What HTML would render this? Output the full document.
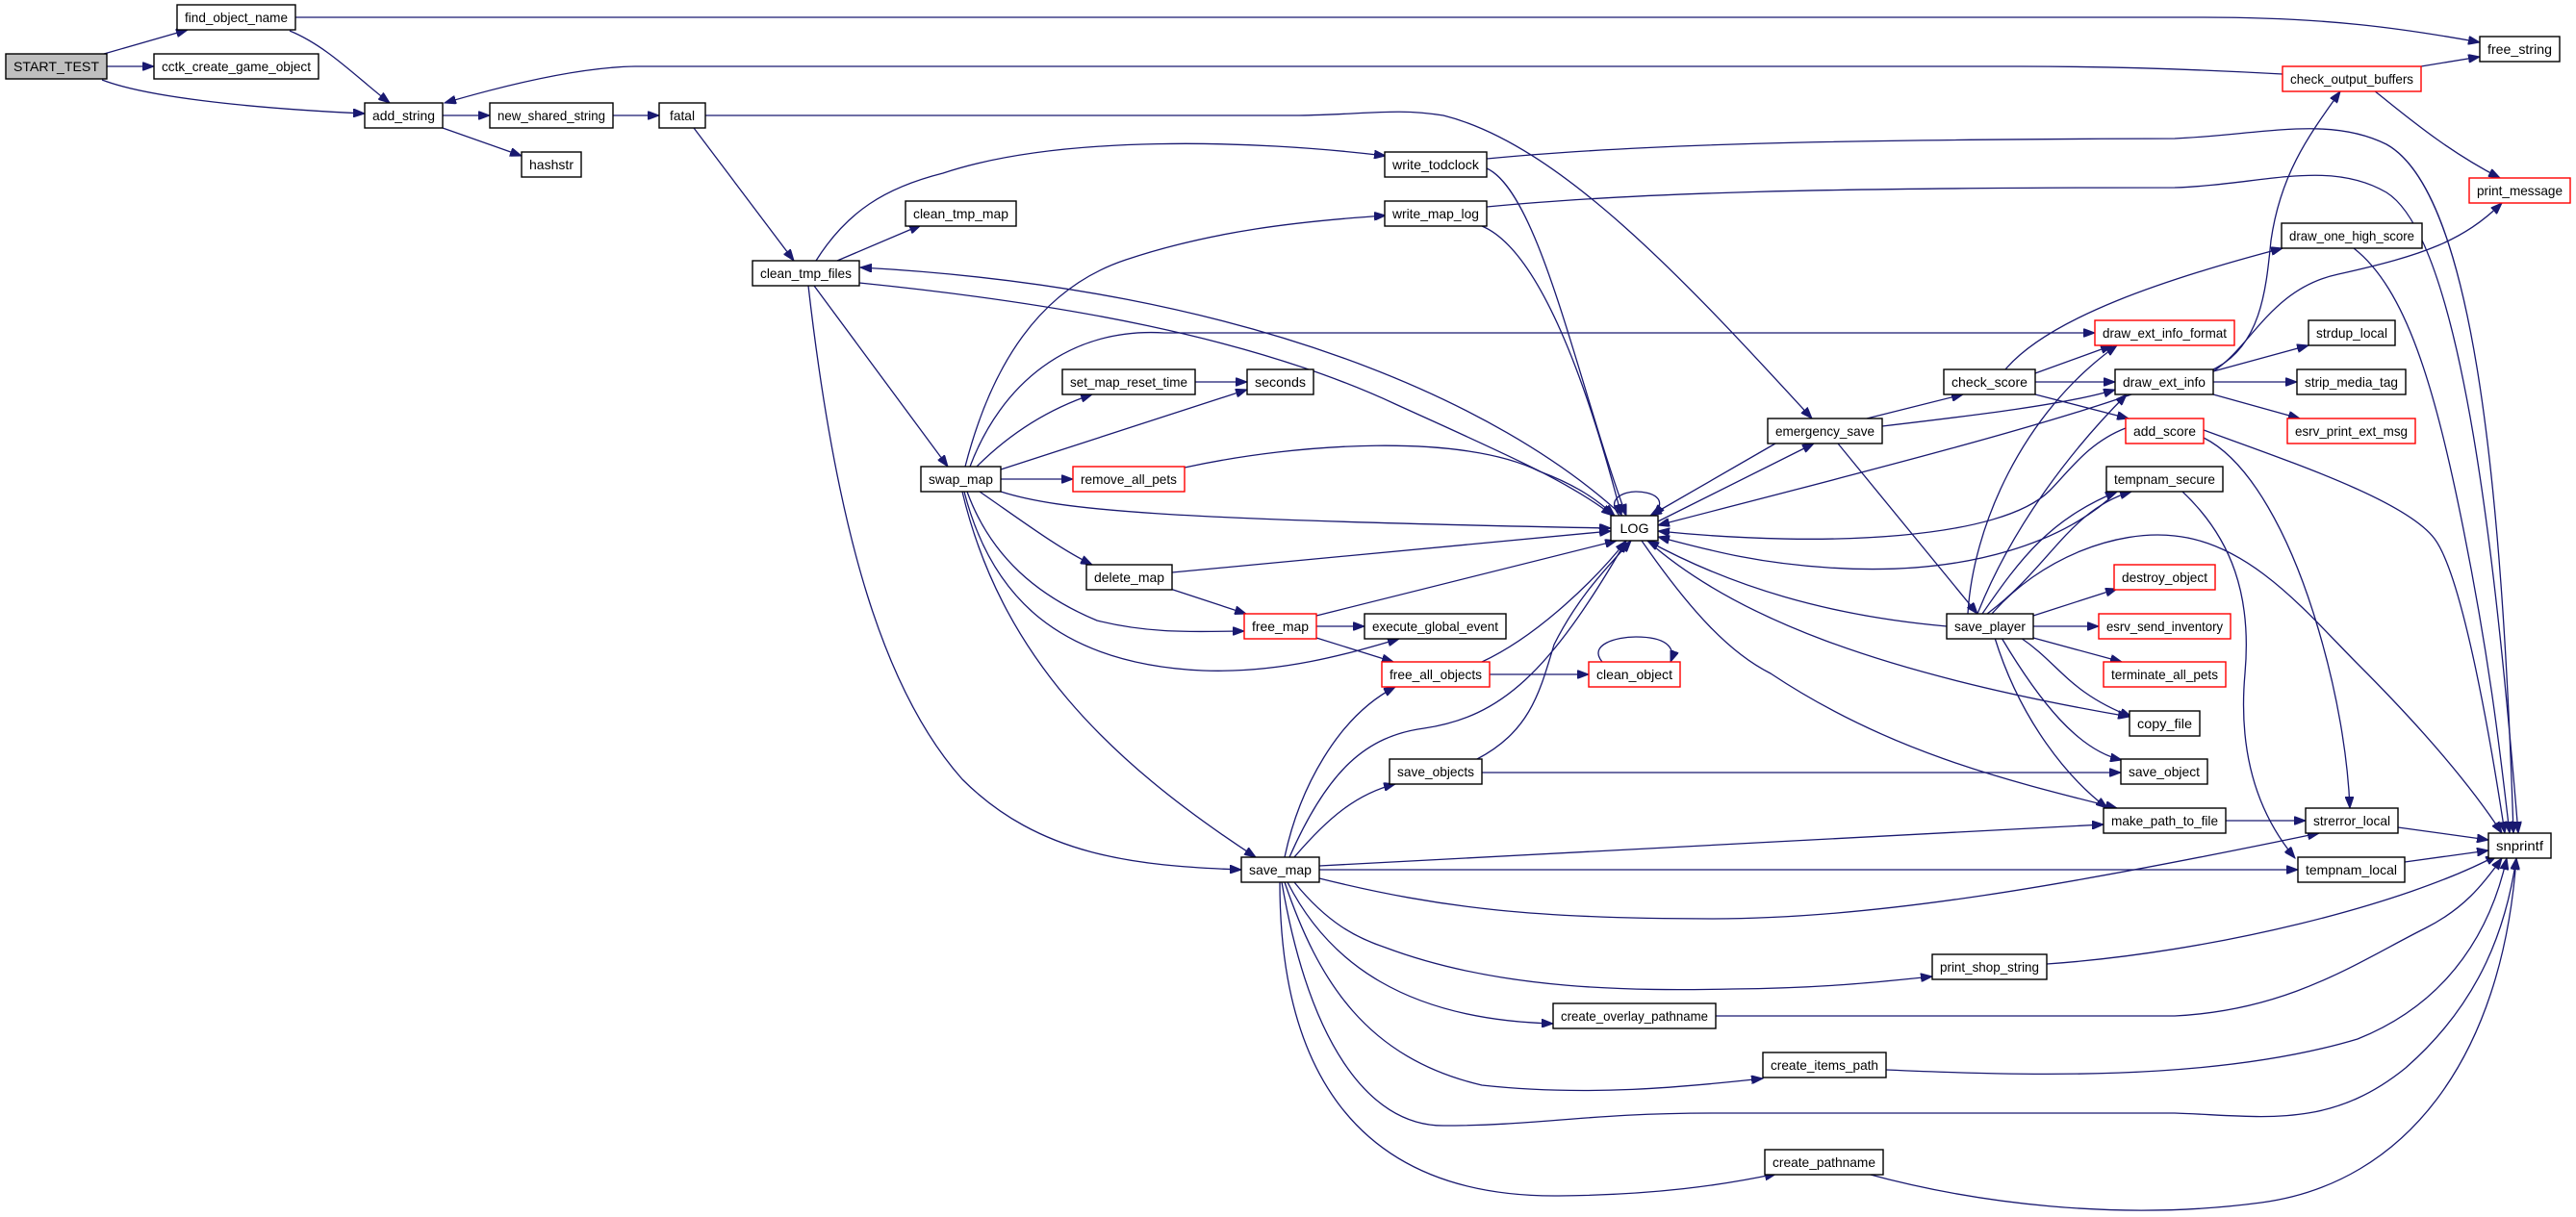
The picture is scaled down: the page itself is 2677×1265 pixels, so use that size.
<!DOCTYPE html>
<html><head><meta charset="utf-8"><style>
html,body{margin:0;padding:0;background:#fff;}
svg{display:block;}
text{font-family:"Liberation Sans",sans-serif;font-size:14px;fill:#000;}
.e{fill:none;stroke:#191970;stroke-width:1.3;marker-end:url(#a);}
rect{stroke-width:1.4;}
</style></head><body>
<svg width="2677" height="1265" viewBox="0 0 2677 1265" xmlns="http://www.w3.org/2000/svg">
<defs><marker id="a" markerUnits="userSpaceOnUse" markerWidth="13" markerHeight="9" refX="12" refY="4.5" orient="auto"><path d="M0,0 L12,4.5 L0,9 z" fill="#191970" stroke="#191970"/></marker></defs>
<g>
<path class="e" d="M108,56 L195,31"/>
<path class="e" d="M111,69 L160,69"/>
<path class="e" d="M106,83 C150,100 250,112 379,118"/>
<path class="e" d="M301,32 C340,48 370,80 405,107"/>
<path class="e" d="M307,18 L2290,18 C2420,18 2500,30 2577,44"/>
<path class="e" d="M2372,77 C2300,73 2200,69 2100,69 L660,69 C600,70 520,90 462,107"/>
<path class="e" d="M2516,69 L2577,59"/>
<path class="e" d="M2467,94 C2500,120 2540,155 2598,185"/>
<path class="e" d="M460,120 L509,120"/>
<path class="e" d="M460,133 L542,162"/>
<path class="e" d="M637,120 L685,120"/>
<path class="e" d="M721,133 L825,271"/>
<path class="e" d="M733,120 L1350,120 C1420,119 1450,112 1500,120 C1620,150 1750,290 1883,435"/>
<path class="e" d="M848,271 C880,220 920,195 980,180 C1100,140 1300,145 1440,162"/>
<path class="e" d="M870,271 L957,234"/>
<path class="e" d="M1686,536 C1560,420 1300,300 894,278"/>
<path class="e" d="M893,294 C1100,315 1300,350 1450,420 C1560,470 1630,500 1676,536"/>
<path class="e" d="M846,297 L985,485"/>
<path class="e" d="M840,297 C870,560 920,720 1000,810 C1080,890 1180,900 1290,904"/>
<path class="e" d="M1545,175 C1600,200 1640,400 1690,536"/>
<path class="e" d="M1545,165 C1700,150 1900,145 2260,144 C2350,140 2420,120 2480,150 C2570,200 2600,500 2612,866"/>
<path class="e" d="M1540,235 C1600,260 1650,400 1685,536"/>
<path class="e" d="M1545,215 C1700,200 1900,195 2260,195 C2350,192 2420,165 2480,200 C2560,250 2595,600 2617,866"/>
<path class="e" d="M1003,485 C1030,380 1080,300 1170,270 C1260,240 1350,230 1440,224"/>
<path class="e" d="M1008,485 C1040,400 1110,340 1210,346 L2177,346"/>
<path class="e" d="M1015,485 C1050,450 1090,425 1135,410"/>
<path class="e" d="M1040,488 L1296,405"/>
<path class="e" d="M1242,397 L1296,397"/>
<path class="e" d="M1040,498 L1115,498"/>
<path class="e" d="M1231,486 C1350,460 1520,450 1600,490 C1640,505 1660,520 1678,536"/>
<path class="e" d="M1040,511 C1100,530 1200,540 1674,549"/>
<path class="e" d="M1018,511 C1060,540 1100,570 1135,587"/>
<path class="e" d="M1218,595 L1674,552"/>
<path class="e" d="M1216,612 L1295,638"/>
<path class="e" d="M1005,511 C1030,580 1080,620 1140,645 C1200,660 1250,656 1293,656"/>
<path class="e" d="M1002,511 C1030,620 1100,690 1250,697 C1330,700 1400,680 1454,664"/>
<path class="e" d="M1000,511 C1040,680 1150,790 1305,891"/>
<path class="e" d="M1368,651 L1418,651"/>
<path class="e" d="M1368,663 L1448,688"/>
<path class="e" d="M1368,640 L1680,562"/>
<path class="e" d="M1548,701 L1651,701"/>
<path class="e" d="M1540,688 C1600,660 1660,600 1690,562"/>
<path class="e" d="M1665,688 C1650,670 1680,662 1700,662 C1730,662 1742,672 1736,688"/>
<path class="e" d="M1683,536 C1668,518 1688,511 1700,511 C1716,511 1735,518 1718,536"/>
<path class="e" d="M1335,891 C1350,820 1390,745 1450,714"/>
<path class="e" d="M1340,891 C1380,800 1420,765 1480,757 C1560,745 1610,700 1690,562"/>
<path class="e" d="M1345,891 C1380,850 1410,825 1450,815"/>
<path class="e" d="M1535,789 C1590,760 1600,720 1615,670 C1640,620 1670,590 1695,562"/>
<path class="e" d="M1540,803 L2204,803"/>
<path class="e" d="M1371,900 L2186,857"/>
<path class="e" d="M1371,904 L2388,904"/>
<path class="e" d="M1371,913 C1500,945 1600,955 1780,955 C1950,955 2150,920 2410,866"/>
<path class="e" d="M1345,917 C1380,960 1410,975 1440,985 C1560,1030 1700,1030 1800,1028 C1900,1027 1960,1020 2008,1015"/>
<path class="e" d="M1338,917 C1380,1000 1460,1060 1614,1064"/>
<path class="e" d="M1335,917 C1370,1020 1420,1100 1540,1128 C1650,1140 1750,1130 1832,1121"/>
<path class="e" d="M1332,917 C1360,1080 1420,1170 1500,1170 C1600,1170 1650,1157 1780,1157 L2260,1157 C2350,1160 2420,1175 2500,1110 C2580,1040 2605,960 2615,892"/>
<path class="e" d="M1330,917 C1330,1100 1400,1245 1620,1243 C1720,1242 1790,1232 1846,1220"/>
<path class="e" d="M1783,1056 L2260,1056 C2380,1050 2450,1000 2520,965 C2560,945 2580,920 2600,892"/>
<path class="e" d="M1960,1112 C2100,1118 2300,1125 2450,1080 C2550,1040 2590,960 2605,892"/>
<path class="e" d="M1940,1220 C2050,1250 2200,1270 2350,1250 C2500,1230 2600,1100 2615,892"/>
<path class="e" d="M2127,1002 C2300,990 2500,940 2595,889"/>
<path class="e" d="M1845,461 L1715,536"/>
<path class="e" d="M1723,542 L1885,461"/>
<path class="e" d="M1940,435 L2040,410"/>
<path class="e" d="M1956,443 C2050,432 2150,420 2198,405"/>
<path class="e" d="M1910,461 L2055,638"/>
<path class="e" d="M2084,384 C2130,330 2250,290 2372,258"/>
<path class="e" d="M2115,388 L2195,359"/>
<path class="e" d="M2115,397 L2198,397"/>
<path class="e" d="M2115,410 L2212,435"/>
<path class="e" d="M2300,384 C2350,360 2355,300 2360,250 C2370,180 2400,140 2432,95"/>
<path class="e" d="M2300,386 C2340,360 2360,300 2430,285 C2520,265 2560,250 2600,211"/>
<path class="e" d="M2300,386 L2399,359"/>
<path class="e" d="M2300,397 L2387,397"/>
<path class="e" d="M2300,410 L2390,435"/>
<path class="e" d="M2215,410 C2100,450 1900,500 1723,546"/>
<path class="e" d="M2209,445 C2170,460 2150,490 2130,510 C2080,560 1900,570 1723,552"/>
<path class="e" d="M2200,511 C2150,560 2050,600 1900,590 C1820,585 1770,570 1723,558"/>
<path class="e" d="M2023,651 C1900,640 1800,610 1712,562"/>
<path class="e" d="M1706,562 C1760,640 1800,680 1840,700 C1960,780 2080,810 2200,840"/>
<path class="e" d="M1712,562 C1800,640 1950,700 2213,745"/>
<path class="e" d="M2045,638 C2050,550 2100,430 2200,359"/>
<path class="e" d="M2055,638 C2090,550 2150,470 2210,410"/>
<path class="e" d="M2060,638 C2100,580 2130,540 2200,511"/>
<path class="e" d="M2065,638 C2130,590 2150,530 2215,511"/>
<path class="e" d="M2113,640 L2200,612"/>
<path class="e" d="M2113,651 L2181,651"/>
<path class="e" d="M2113,663 L2205,688"/>
<path class="e" d="M2100,663 C2140,690 2150,720 2215,745"/>
<path class="e" d="M2080,663 C2120,730 2160,780 2205,790"/>
<path class="e" d="M2073,663 C2100,750 2150,810 2190,840"/>
<path class="e" d="M2070,638 C2120,580 2200,550 2260,557 C2340,565 2400,640 2450,690 C2520,760 2570,820 2600,866"/>
<path class="e" d="M2313,853 L2396,853"/>
<path class="e" d="M2492,860 L2586,873"/>
<path class="e" d="M2499,896 L2586,884"/>
<path class="e" d="M2268,511 C2320,560 2340,620 2333,700 C2325,790 2350,850 2385,892"/>
<path class="e" d="M2290,455 C2340,480 2380,560 2405,640 C2430,720 2440,790 2442,840"/>
<path class="e" d="M2290,447 C2380,480 2500,520 2530,560 C2560,600 2590,780 2603,866"/>
<path class="e" d="M2446,258 C2500,300 2530,400 2560,550 C2590,700 2600,800 2608,866"/>
</g>
<g>
<rect x="6" y="56" width="105" height="26" fill="#bfbfbf" stroke="#000"/><text x="58.5" y="74" text-anchor="middle" textLength="89" lengthAdjust="spacingAndGlyphs">START_TEST</text>
<rect x="184" y="5" width="123" height="26" fill="#fff" stroke="#000"/><text x="245.5" y="23" text-anchor="middle" textLength="107" lengthAdjust="spacingAndGlyphs">find_object_name</text>
<rect x="160" y="56" width="171" height="26" fill="#fff" stroke="#000"/><text x="245.5" y="74" text-anchor="middle" textLength="155" lengthAdjust="spacingAndGlyphs">cctk_create_game_object</text>
<rect x="379" y="107" width="81" height="26" fill="#fff" stroke="#000"/><text x="419.5" y="125" text-anchor="middle" textLength="65" lengthAdjust="spacingAndGlyphs">add_string</text>
<rect x="509" y="107" width="128" height="26" fill="#fff" stroke="#000"/><text x="573" y="125" text-anchor="middle" textLength="112" lengthAdjust="spacingAndGlyphs">new_shared_string</text>
<rect x="685" y="107" width="48" height="26" fill="#fff" stroke="#000"/><text x="709" y="125" text-anchor="middle" textLength="26" lengthAdjust="spacingAndGlyphs">fatal</text>
<rect x="542" y="158" width="62" height="26" fill="#fff" stroke="#000"/><text x="573" y="176" text-anchor="middle" textLength="46" lengthAdjust="spacingAndGlyphs">hashstr</text>
<rect x="782" y="271" width="111" height="26" fill="#fff" stroke="#000"/><text x="837.5" y="289" text-anchor="middle" textLength="95" lengthAdjust="spacingAndGlyphs">clean_tmp_files</text>
<rect x="941" y="209" width="115" height="26" fill="#fff" stroke="#000"/><text x="998.5" y="227" text-anchor="middle" textLength="99" lengthAdjust="spacingAndGlyphs">clean_tmp_map</text>
<rect x="1439" y="158" width="106" height="26" fill="#fff" stroke="#000"/><text x="1492" y="176" text-anchor="middle" textLength="90" lengthAdjust="spacingAndGlyphs">write_todclock</text>
<rect x="1439" y="209" width="106" height="26" fill="#fff" stroke="#000"/><text x="1492" y="227" text-anchor="middle" textLength="90" lengthAdjust="spacingAndGlyphs">write_map_log</text>
<rect x="1104" y="384" width="138" height="26" fill="#fff" stroke="#000"/><text x="1173" y="402" text-anchor="middle" textLength="122" lengthAdjust="spacingAndGlyphs">set_map_reset_time</text>
<rect x="1296" y="384" width="69" height="26" fill="#fff" stroke="#000"/><text x="1330.5" y="402" text-anchor="middle" textLength="53" lengthAdjust="spacingAndGlyphs">seconds</text>
<rect x="957" y="485" width="83" height="26" fill="#fff" stroke="#000"/><text x="998.5" y="503" text-anchor="middle" textLength="67" lengthAdjust="spacingAndGlyphs">swap_map</text>
<rect x="1115" y="485" width="116" height="26" fill="#fff" stroke="#f00"/><text x="1173" y="503" text-anchor="middle" textLength="100" lengthAdjust="spacingAndGlyphs">remove_all_pets</text>
<rect x="1674" y="536" width="49" height="26" fill="#fff" stroke="#000"/><text x="1698.5" y="554" text-anchor="middle" textLength="30" lengthAdjust="spacingAndGlyphs">LOG</text>
<rect x="1129" y="587" width="89" height="26" fill="#fff" stroke="#000"/><text x="1173.5" y="605" text-anchor="middle" textLength="73" lengthAdjust="spacingAndGlyphs">delete_map</text>
<rect x="1293" y="638" width="75" height="26" fill="#fff" stroke="#f00"/><text x="1330.5" y="656" text-anchor="middle" textLength="59" lengthAdjust="spacingAndGlyphs">free_map</text>
<rect x="1418" y="638" width="147" height="26" fill="#fff" stroke="#000"/><text x="1491.5" y="656" text-anchor="middle" textLength="131" lengthAdjust="spacingAndGlyphs">execute_global_event</text>
<rect x="1436" y="688" width="112" height="26" fill="#fff" stroke="#f00"/><text x="1492" y="706" text-anchor="middle" textLength="96" lengthAdjust="spacingAndGlyphs">free_all_objects</text>
<rect x="1651" y="688" width="95" height="26" fill="#fff" stroke="#f00"/><text x="1698.5" y="706" text-anchor="middle" textLength="79" lengthAdjust="spacingAndGlyphs">clean_object</text>
<rect x="1444" y="789" width="96" height="26" fill="#fff" stroke="#000"/><text x="1492" y="807" text-anchor="middle" textLength="80" lengthAdjust="spacingAndGlyphs">save_objects</text>
<rect x="1290" y="891" width="81" height="26" fill="#fff" stroke="#000"/><text x="1330.5" y="909" text-anchor="middle" textLength="65" lengthAdjust="spacingAndGlyphs">save_map</text>
<rect x="1614" y="1043" width="169" height="26" fill="#fff" stroke="#000"/><text x="1698.5" y="1061" text-anchor="middle" textLength="153" lengthAdjust="spacingAndGlyphs">create_overlay_pathname</text>
<rect x="1832" y="1094" width="128" height="26" fill="#fff" stroke="#000"/><text x="1896" y="1112" text-anchor="middle" textLength="112" lengthAdjust="spacingAndGlyphs">create_items_path</text>
<rect x="1834" y="1195" width="123" height="26" fill="#fff" stroke="#000"/><text x="1895.5" y="1213" text-anchor="middle" textLength="107" lengthAdjust="spacingAndGlyphs">create_pathname</text>
<rect x="2008" y="992" width="119" height="26" fill="#fff" stroke="#000"/><text x="2067.5" y="1010" text-anchor="middle" textLength="103" lengthAdjust="spacingAndGlyphs">print_shop_string</text>
<rect x="2577" y="38" width="83" height="26" fill="#fff" stroke="#000"/><text x="2618.5" y="56" text-anchor="middle" textLength="67" lengthAdjust="spacingAndGlyphs">free_string</text>
<rect x="2372" y="69" width="144" height="26" fill="#fff" stroke="#f00"/><text x="2444" y="87" text-anchor="middle" textLength="128" lengthAdjust="spacingAndGlyphs">check_output_buffers</text>
<rect x="2566" y="185" width="105" height="26" fill="#fff" stroke="#f00"/><text x="2618.5" y="203" text-anchor="middle" textLength="89" lengthAdjust="spacingAndGlyphs">print_message</text>
<rect x="2371" y="232" width="146" height="26" fill="#fff" stroke="#000"/><text x="2444" y="250" text-anchor="middle" textLength="130" lengthAdjust="spacingAndGlyphs">draw_one_high_score</text>
<rect x="2177" y="333" width="145" height="26" fill="#fff" stroke="#f00"/><text x="2249.5" y="351" text-anchor="middle" textLength="129" lengthAdjust="spacingAndGlyphs">draw_ext_info_format</text>
<rect x="2399" y="333" width="90" height="26" fill="#fff" stroke="#000"/><text x="2444" y="351" text-anchor="middle" textLength="74" lengthAdjust="spacingAndGlyphs">strdup_local</text>
<rect x="2020" y="384" width="95" height="26" fill="#fff" stroke="#000"/><text x="2067.5" y="402" text-anchor="middle" textLength="79" lengthAdjust="spacingAndGlyphs">check_score</text>
<rect x="2198" y="384" width="102" height="26" fill="#fff" stroke="#000"/><text x="2249" y="402" text-anchor="middle" textLength="86" lengthAdjust="spacingAndGlyphs">draw_ext_info</text>
<rect x="2387" y="384" width="113" height="26" fill="#fff" stroke="#000"/><text x="2443.5" y="402" text-anchor="middle" textLength="97" lengthAdjust="spacingAndGlyphs">strip_media_tag</text>
<rect x="1837" y="435" width="119" height="26" fill="#fff" stroke="#000"/><text x="1896.5" y="453" text-anchor="middle" textLength="103" lengthAdjust="spacingAndGlyphs">emergency_save</text>
<rect x="2209" y="435" width="81" height="26" fill="#fff" stroke="#f00"/><text x="2249.5" y="453" text-anchor="middle" textLength="65" lengthAdjust="spacingAndGlyphs">add_score</text>
<rect x="2377" y="435" width="133" height="26" fill="#fff" stroke="#f00"/><text x="2443.5" y="453" text-anchor="middle" textLength="117" lengthAdjust="spacingAndGlyphs">esrv_print_ext_msg</text>
<rect x="2189" y="485" width="121" height="26" fill="#fff" stroke="#000"/><text x="2249.5" y="503" text-anchor="middle" textLength="105" lengthAdjust="spacingAndGlyphs">tempnam_secure</text>
<rect x="2197" y="587" width="105" height="26" fill="#fff" stroke="#f00"/><text x="2249.5" y="605" text-anchor="middle" textLength="89" lengthAdjust="spacingAndGlyphs">destroy_object</text>
<rect x="2023" y="638" width="90" height="26" fill="#fff" stroke="#000"/><text x="2068" y="656" text-anchor="middle" textLength="74" lengthAdjust="spacingAndGlyphs">save_player</text>
<rect x="2181" y="638" width="137" height="26" fill="#fff" stroke="#f00"/><text x="2249.5" y="656" text-anchor="middle" textLength="121" lengthAdjust="spacingAndGlyphs">esrv_send_inventory</text>
<rect x="2186" y="688" width="127" height="26" fill="#fff" stroke="#f00"/><text x="2249.5" y="706" text-anchor="middle" textLength="111" lengthAdjust="spacingAndGlyphs">terminate_all_pets</text>
<rect x="2213" y="739" width="73" height="26" fill="#fff" stroke="#000"/><text x="2249.5" y="757" text-anchor="middle" textLength="57" lengthAdjust="spacingAndGlyphs">copy_file</text>
<rect x="2204" y="789" width="90" height="26" fill="#fff" stroke="#000"/><text x="2249" y="807" text-anchor="middle" textLength="74" lengthAdjust="spacingAndGlyphs">save_object</text>
<rect x="2186" y="840" width="127" height="26" fill="#fff" stroke="#000"/><text x="2249.5" y="858" text-anchor="middle" textLength="111" lengthAdjust="spacingAndGlyphs">make_path_to_file</text>
<rect x="2396" y="840" width="96" height="26" fill="#fff" stroke="#000"/><text x="2444" y="858" text-anchor="middle" textLength="80" lengthAdjust="spacingAndGlyphs">strerror_local</text>
<rect x="2586" y="866" width="65" height="26" fill="#fff" stroke="#000"/><text x="2618.5" y="884" text-anchor="middle" textLength="49" lengthAdjust="spacingAndGlyphs">snprintf</text>
<rect x="2388" y="891" width="111" height="26" fill="#fff" stroke="#000"/><text x="2443.5" y="909" text-anchor="middle" textLength="95" lengthAdjust="spacingAndGlyphs">tempnam_local</text>
</g>
</svg>
</body></html>
